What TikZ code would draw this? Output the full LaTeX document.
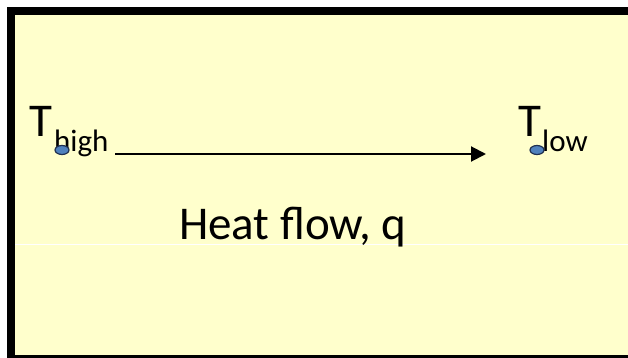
\documentclass[tikz,border=0pt]{standalone}
\usepackage{fontspec}
\setmainfont{Carlito}
\usetikzlibrary{arrows.meta,shapes.geometric}
\definecolor{panel}{HTML}{FFFFCC}
\definecolor{dotblue}{HTML}{4F81BD}
\definecolor{dotedge}{HTML}{1F3050}
\tikzset{
  bigtext/.style={inner sep=0pt, font=\fontsize{47}{50}\selectfont},
  subtext/.style={inner sep=0pt, font=\fontsize{31}{34}\selectfont},
  probe/.style={draw=dotedge, line width=1.2pt, fill=dotblue, ellipse, minimum width=14pt, minimum height=9pt, inner sep=0pt},
  flowarrow/.style={line width=2pt, -{Triangle[length=15pt,width=15pt]}}
}
\begin{document}
\begin{tikzpicture}[x=1pt, y=-1pt]
  \useasboundingbox (0,0) rectangle (628,358);
  % slab with thick black edges
  \fill[white] (0,0) rectangle (628,358);
  \fill[black] (7,7) rectangle (628,358);
  \fill[panel] (15,15) rectangle (628,355);
  \draw[white, line width=1pt] (15,244) -- (628,244);
  % hot side
  \node[bigtext, anchor=base west] (Th) at (29,137) {T};
  \node[subtext, anchor=base west] (Thsub) at (54,151) {high};
  % cold side
  \node[bigtext, anchor=base west] (Tl) at (518,137) {T};
  \node[subtext, anchor=base west] (Tlsub) at (542,151) {low};
  % measurement points
  \node[probe] (ph) at (62,150) {};
  \node[probe] (pl) at (537,150) {};
  % direction of heat flow
  \coordinate (a0) at (115,154);
  \coordinate (a1) at (486,154);
  \draw[flowarrow] (a0) -- (a1);
  \node[bigtext, anchor=base west] (lbl) at (179,239) {Heat flow, q};
\end{tikzpicture}
\end{document}
